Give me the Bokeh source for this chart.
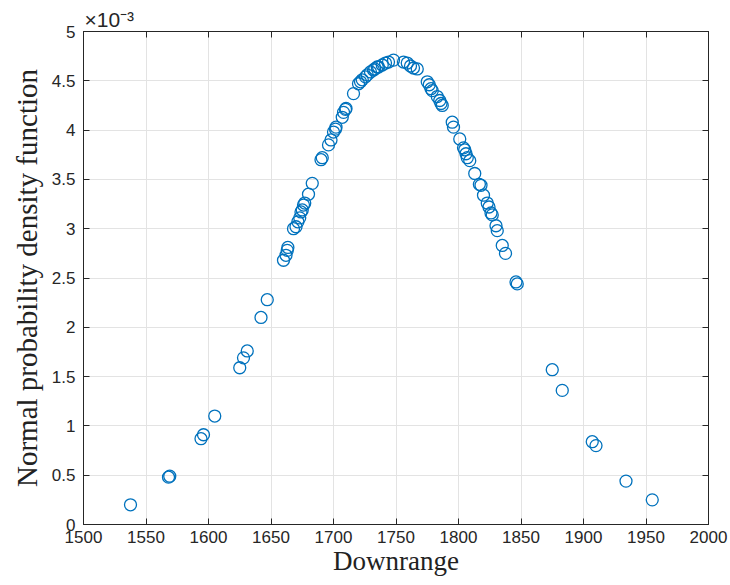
from bokeh.plotting import figure
from bokeh.models import FixedTicker, LinearAxis, Range1d, ColumnDataSource, Title, CustomJSTickFormatter
from bokeh.embed import file_html
from bokeh.resources import INLINE

# Downrange values
downrange = [
    1537.6, 1568, 1569, 1594, 1596, 1605, 1625, 1628, 1631, 1642, 1647,
    1660, 1662, 1663, 1663.5, 1668, 1670, 1671.5, 1673, 1674, 1675, 1676, 1677,
    1680, 1683, 1690, 1691, 1696, 1698, 1700, 1701.6, 1702, 1707, 1708, 1709.6, 1710,
    1716, 1720, 1721.6, 1723, 1725.6, 1727, 1729.6, 1732, 1733, 1735, 1736, 1739,
    1741.6, 1744, 1748, 1756, 1759, 1761.6, 1764, 1767,
    1775, 1776.6, 1778, 1779, 1783, 1785, 1786, 1787,
    1795, 1796, 1801, 1804, 1805, 1806, 1807, 1809, 1813, 1816.7, 1818,
    1820, 1823, 1824.4, 1826, 1827, 1830, 1831, 1835, 1837.6, 1846, 1847,
    1875, 1883, 1907, 1910, 1934, 1955,
]
# Normal pdf values, in units of 1e-3
pdf_e3 = [
    0.20, 0.48, 0.49, 0.87, 0.91, 1.10, 1.59, 1.69, 1.76, 2.10, 2.28,
    2.68, 2.73, 2.78, 2.81, 3.00, 3.02, 3.07, 3.11, 3.17, 3.19, 3.24, 3.26,
    3.35, 3.46, 3.70, 3.72, 3.85, 3.90, 3.98, 4.01, 4.03, 4.13, 4.18, 4.21, 4.22,
    4.37, 4.47, 4.49, 4.51, 4.54, 4.56, 4.59, 4.61, 4.62, 4.64, 4.64, 4.66,
    4.68, 4.69, 4.71, 4.69, 4.68, 4.65, 4.63, 4.62,
    4.49, 4.46, 4.42, 4.40, 4.34, 4.30, 4.27, 4.25,
    4.08, 4.03, 3.91, 3.82, 3.80, 3.76, 3.72, 3.69, 3.56, 3.45, 3.44,
    3.34, 3.26, 3.22, 3.16, 3.14, 3.03, 2.98, 2.83, 2.75, 2.46, 2.44,
    1.57, 1.36, 0.84, 0.80, 0.44, 0.25,
]

x_ticks = [1500, 1550, 1600, 1650, 1700, 1750, 1800, 1850, 1900, 1950, 2000]
y_ticks = [0, 0.5, 1, 1.5, 2, 2.5, 3, 3.5, 4, 4.5, 5]
exponent_text = "×10⁻³"

src = ColumnDataSource(dict(x=downrange, y=pdf_e3))

AX = "#262626"
TICKFONT = "Liberation Sans"

p = figure(width=730, height=585, output_backend="svg", toolbar_location=None,
           x_range=Range1d(1500, 2000), y_range=Range1d(0, 5),
           min_border_left=83, min_border_right=22, min_border_top=31, min_border_bottom=61)
p.background_fill_color = "white"
p.border_fill_color = "white"
p.outline_line_color = AX
p.outline_line_width = 1

p.scatter("x", "y", source=src, marker="circle", size=12, fill_color=None,
          line_color="#0072BD", line_width=1.3)

for ax in (p.xaxis[0], p.yaxis[0]):
    ax.axis_line_color = AX
    ax.axis_line_width = 1
    ax.major_tick_line_color = AX
    ax.major_tick_in = 6
    ax.major_tick_out = 0
    ax.minor_tick_line_color = None
    ax.major_label_text_font = TICKFONT
    ax.major_label_text_font_size = "17px"
    ax.major_label_text_color = AX
    ax.axis_label_text_font = "Liberation Serif"
    ax.axis_label_text_font_style = "normal"
    ax.axis_label_text_color = "#222222"

p.xaxis[0].axis_label_text_font_size = "27px"
p.yaxis[0].axis_label_text_font_size = "29px"
p.xaxis[0].ticker = FixedTicker(ticks=x_ticks)
p.yaxis[0].ticker = FixedTicker(ticks=y_ticks)
p.xaxis[0].axis_label = "Downrange"
p.yaxis[0].axis_label = "Normal probability density function"
p.xaxis[0].major_label_standoff = 6
p.yaxis[0].major_label_standoff = 8
p.xaxis[0].axis_label_standoff = 0
p.yaxis[0].axis_label_standoff = 6

blank = CustomJSTickFormatter(code="return '';")
ra = LinearAxis(ticker=FixedTicker(ticks=y_ticks), formatter=blank,
                major_tick_in=6, major_tick_out=0, minor_tick_line_color=None,
                axis_line_color=AX, major_tick_line_color=AX, major_label_standoff=0)
ta = LinearAxis(ticker=FixedTicker(ticks=x_ticks), formatter=blank,
                major_tick_in=6, major_tick_out=0, minor_tick_line_color=None,
                axis_line_color=AX, major_tick_line_color=AX, major_label_standoff=0)
p.add_layout(ra, "right")
p.add_layout(ta, "above")
p.add_layout(Title(text=exponent_text, align="left", text_font=TICKFONT,
                   text_font_size="21px", text_font_style="normal",
                   text_color=AX, standoff=1, offset=1), "above")

p.grid.grid_line_color = "#e3e3e3"
p.grid.grid_line_width = 1
p.xgrid.ticker = FixedTicker(ticks=x_ticks)
p.ygrid.ticker = FixedTicker(ticks=y_ticks)

open("out.html", "w").write(file_html(p, INLINE))
